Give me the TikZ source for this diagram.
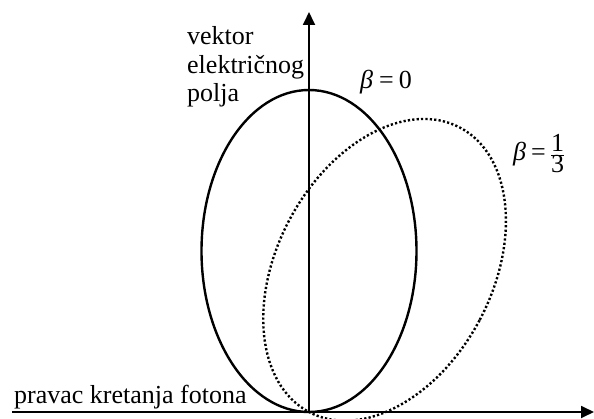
\documentclass[tikz,border=0pt]{standalone}
\usepackage{fontspec}
\setmainfont{Liberation Serif}
\usetikzlibrary{arrows.meta}
\begin{document}
\begin{tikzpicture}[x=1pt,y=-1pt,
  axis/.style={line width=1.8pt, -{Triangle[length=13pt,width=12pt]}},
  solidell/.style={line width=2.4pt},
  dotell/.style={line width=2.4pt, dash pattern=on 2.2pt off 2.2pt},
  lbl/.style={font=\fontsize{26}{29}\selectfont, inner sep=0pt, anchor=base west}]
\useasboundingbox (0,0) rectangle (594,419);
\coordinate (O) at (309,412);
\coordinate (C) at (309,251);
\coordinate (ytip) at (309,12);
\coordinate (xstart) at (12,412);
\coordinate (xtip) at (594,412);
% ellipses
\draw[solidell] (C) ellipse [x radius=107.5, y radius=161];
\draw[dotell, rotate around={-28:(309,412)}] (309,251) ellipse [x radius=107.5, y radius=161];
% axes
\draw[axis] (O) -- (ytip);
\draw[axis] (xstart) -- (xtip);
% labels
\node[lbl] (v1) at (187,45) {vektor};
\node[lbl] (v2) at (187,74) {električnog};
\node[lbl] (v3) at (187,102) {polja};
\node[lbl] (px) at (14,403) {pravac kretanja fotona};
\node[lbl] (b0) at (360,89) {\textit{β}\hspace{6pt}=\hspace{5pt}0};
\node[lbl] (b1) at (513,161) {\textit{β}\hspace{5pt}=\hspace{4pt}$\frac{\mbox{1}}{\mbox{3}}$};
\end{tikzpicture}
\end{document}
